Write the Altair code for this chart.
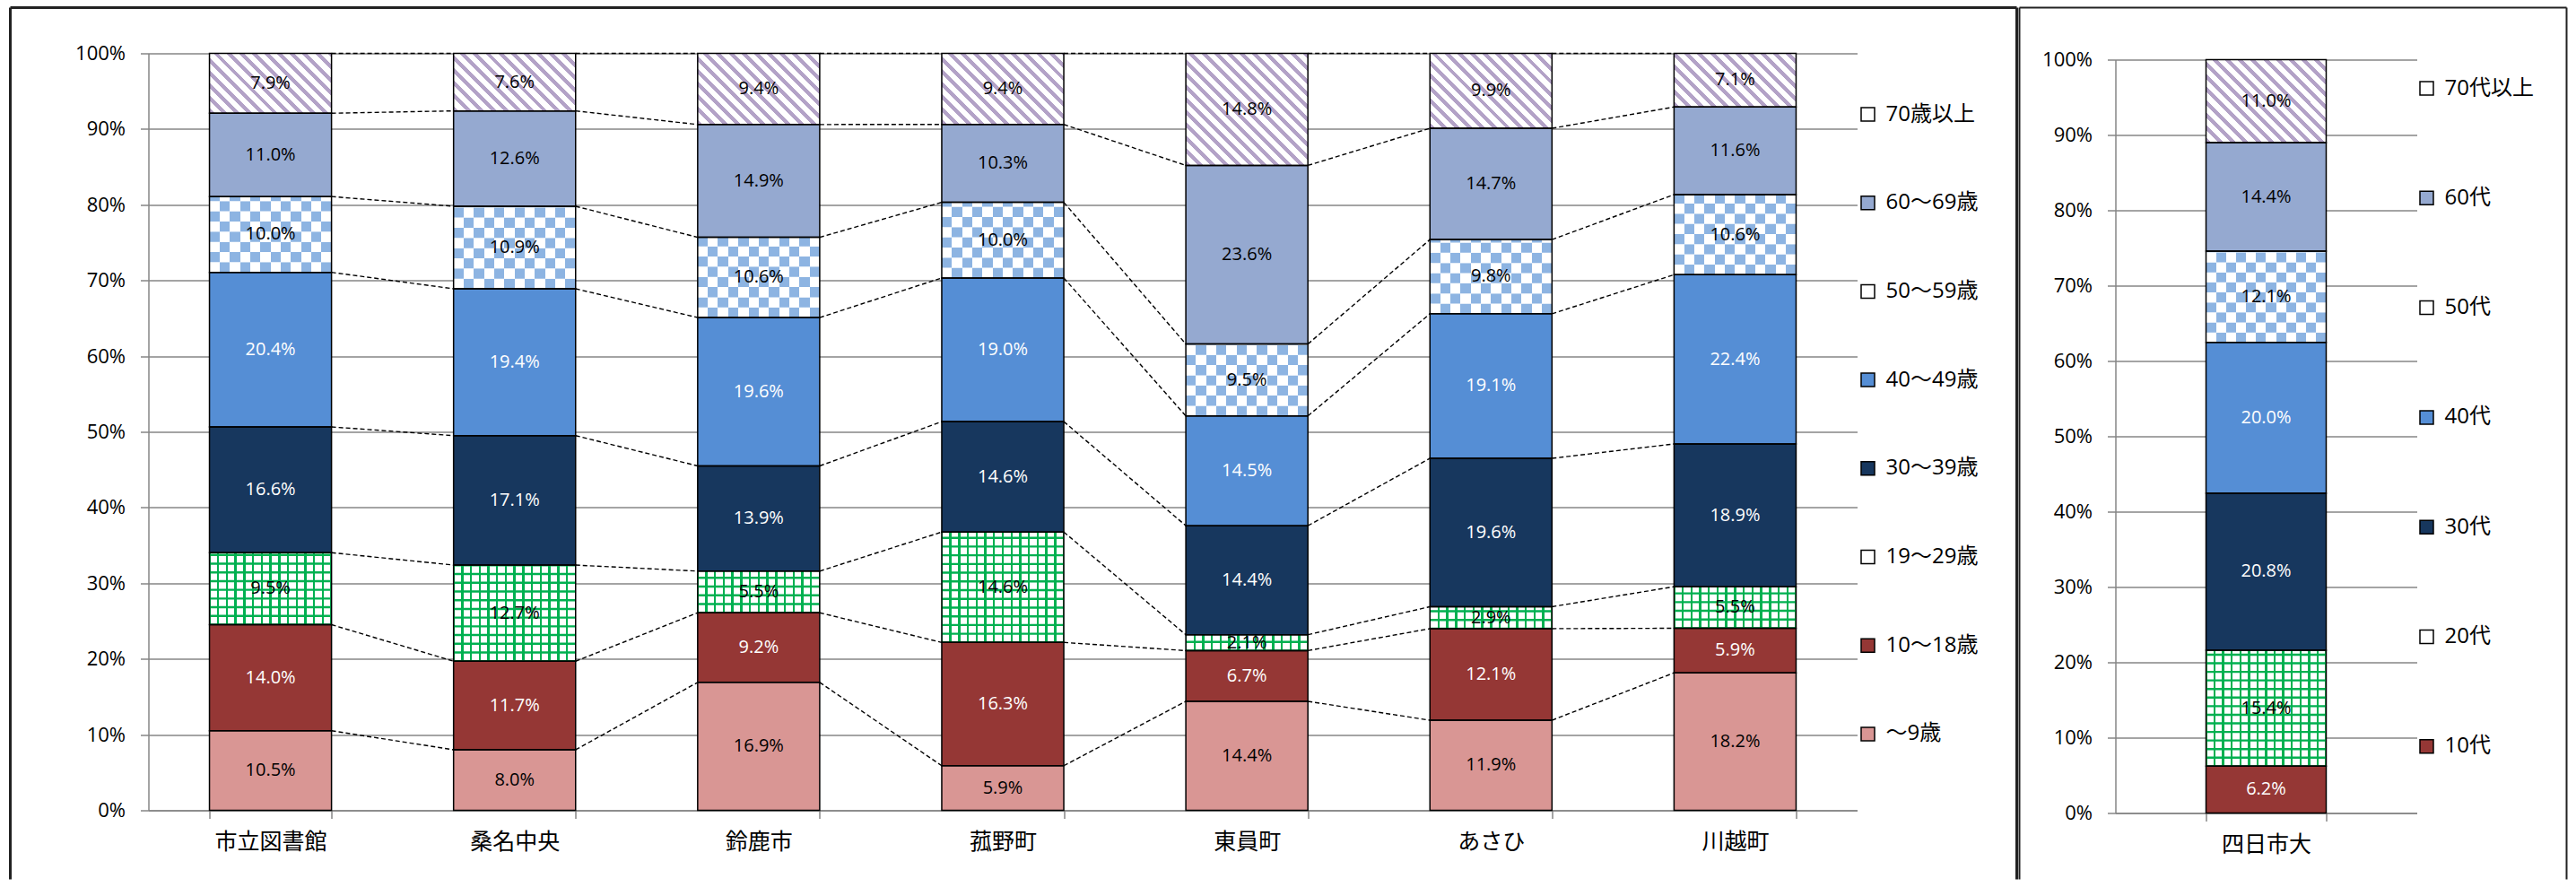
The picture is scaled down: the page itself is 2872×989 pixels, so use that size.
import math
import altair as alt

# ---------------------------------------------------------------- data
stations = ["市立図書館", "桑名中央", "鈴鹿市", "菰野町", "東員町", "あさひ", "川越町"]
age_groups = ["〜9歳", "10〜18歳", "19〜29歳", "30〜39歳",
              "40〜49歳", "50〜59歳", "60〜69歳", "70歳以上"]   # bottom -> top

share_0_9 = [10.5, 8.0, 16.9, 5.9, 14.4, 11.9, 18.2]
share_10_18 = [14.0, 11.7, 9.2, 16.3, 6.7, 12.1, 5.9]
share_19_29 = [9.5, 12.7, 5.5, 14.6, 2.1, 2.9, 5.5]
share_30_39 = [16.6, 17.1, 13.9, 14.6, 14.4, 19.6, 18.9]
share_40_49 = [20.4, 19.4, 19.6, 19.0, 14.5, 19.1, 22.4]
share_50_59 = [10.0, 10.9, 10.6, 10.0, 9.5, 9.8, 10.6]
share_60_69 = [11.0, 12.6, 14.9, 10.3, 23.6, 14.7, 11.6]
share_70_up = [7.9, 7.6, 9.4, 9.4, 14.8, 9.9, 7.1]

univ = ["四日市大"]
decades = ["10代", "20代", "30代", "40代", "50代", "60代", "70代以上"]  # bottom -> top
univ_shares = [6.2, 15.4, 20.8, 20.0, 12.1, 14.4, 11.0]

# ---------------------------------------------------------- appearance
FONT_NUM = "Open Sans"
FONT_JP = "Noto Sans CJK JP"
FONT_LEGEND = "Open Sans, Noto Sans CJK JP"
AXIS_GREY = "#868686"
FRAME_COLOR = "#222222"

PINK, MAROON, NAVY = "#D99694", "#953735", "#17375E"
BLUE, STEEL = "#558ED5", "#95A9D0"
LAVENDER, CHECK_BLUE, GREEN = "#B3A2C7", "#8DB4E2", "#00B050"

SOLID = {"pink": PINK, "maroon": MAROON, "navy": NAVY, "blue": BLUE, "steel": STEEL}
SWATCH = {"pink": PINK, "maroon": MAROON, "grid": "white", "navy": NAVY,
          "blue": BLUE, "checker": "white", "steel": STEEL, "stripe": "white"}
LIGHT_TEXT = {"maroon", "navy", "blue"}

styles_left = ["pink", "maroon", "grid", "navy", "blue", "checker", "steel", "stripe"]
styles_right = ["maroon", "grid", "navy", "blue", "checker", "steel", "stripe"]

# plot-area sizes (px) and the resulting bar widths
W_L, H_L = 1905, 844
W_R, H_R = 336, 840
TOP_R = 7            # the university panel's value axis starts a little lower
BAR_L = W_L / 7 * 0.5
BAR_R = 134.0


# ------------------------------------------------------- fill patterns
def stripe_fill(h_px, w_px, period=10.0, duty=0.42):
    """Diagonal lavender hatching (45 deg) as a bounding-box linear gradient."""
    k = (h_px + w_px) / (h_px ** 2 + w_px ** 2)
    n = (h_px + w_px) / math.sqrt(2) / period
    stops = []
    for i in range(int(math.ceil(n))):
        a = i / n
        b = min((i + duty) / n, 1.0)
        c = min((i + 1) / n, 1.0)
        stops += [{"offset": a, "color": LAVENDER}, {"offset": b, "color": LAVENDER},
                  {"offset": b, "color": "white"}, {"offset": c, "color": "white"}]
    return {"gradient": "linear", "x1": 0, "y1": 1,
            "x2": k * w_px, "y2": 1 - k * h_px, "stops": stops}


def checker_row(even, n_cols=12):
    stops = []
    for j in range(n_cols):
        col = CHECK_BLUE if (j % 2 == 1) == even else "white"
        stops += [{"offset": j / n_cols, "color": col},
                  {"offset": (j + 1) / n_cols, "color": col}]
    return {"gradient": "linear", "x1": 0, "y1": 0, "x2": 1, "y2": 0, "stops": stops}


def grid_columns(n_cols=14, line=0.25):
    stops = []
    e = 1.0 / n_cols
    for j in range(n_cols):
        a = j * e
        stops += [{"offset": a, "color": GREEN},
                  {"offset": a + e * line / 2, "color": GREEN},
                  {"offset": a + e * line / 2, "color": "white"},
                  {"offset": a + e * (1 - line / 2), "color": "white"},
                  {"offset": a + e * (1 - line / 2), "color": GREEN},
                  {"offset": a + e, "color": GREEN}]
    return {"gradient": "linear", "x1": 0, "y1": 0, "x2": 1, "y2": 0, "stops": stops}


# ------------------------------------------------------------ tables
def build_tables(cats, groups, styles, shares, plot_h, bar_px):
    segs, overlays, links, tops = [], [], [], []
    for ci, cat in enumerate(cats):
        vals = [s[ci] for s in shares]
        total = sum(vals)
        lo = 0.0
        cat_tops = []
        for g, v, st in zip(groups, vals, styles):
            hi = lo + v / total * 100.0
            h_px = (hi - lo) * plot_h / 100.0
            if st == "stripe":
                fill = stripe_fill(h_px, bar_px)
            elif st == "grid":
                fill = grid_columns()
            elif st == "checker":
                fill = "white"
            else:
                fill = SOLID[st]
            segs.append({"cat": cat, "grp": g, "y0": lo, "y1": hi,
                         "ymid": (lo + hi) / 2, "label": f"{v:.1f}%",
                         "tc": "white" if st in LIGHT_TEXT else "black",
                         "fill": fill})
            if st == "checker":
                step = (bar_px / 12) * 100.0 / plot_h
                k = 0
                while lo + k * step < hi - 1e-9:
                    overlays.append({"cat": cat, "y0": lo + k * step,
                                     "y1": min(lo + (k + 1) * step, hi),
                                     "fill": checker_row(k % 2 == 0)})
                    k += 1
            if st == "grid":
                step = (bar_px / 14) * 100.0 / plot_h
                t = step * 0.25
                k = 0
                while lo + k * step <= hi + 1e-9:
                    pos = lo + k * step
                    overlays.append({"cat": cat, "y0": max(pos - t / 2, lo),
                                     "y1": min(pos + t / 2, hi), "fill": GREEN})
                    k += 1
            cat_tops.append(hi)
            lo = hi
        tops.append(cat_tops)
    for ci in range(len(cats) - 1):
        for gi in range(len(groups)):
            links.append({"cat": cats[ci], "next": cats[ci + 1],
                          "ya": tops[ci][gi], "yb": tops[ci + 1][gi]})
    return segs, overlays, links


# ------------------------------------------------------------- panels
def panel(cats, groups, styles, shares, width, plot_h, top, bar_px,
          pad_inner, pad_outer, legend_x, legend_y, legend_gap, frame, frame_w):
    segs, overlays, links = build_tables(cats, groups, styles, shares, plot_h, bar_px)
    height = plot_h + top

    xs = alt.Scale(domain=cats, paddingInner=pad_inner, paddingOuter=pad_outer)
    ys = alt.Scale(domain=[0, 100], nice=False, range=[height, top])
    x_axis = alt.Axis(title=None, labelAngle=0, labelFont=FONT_JP, labelFontSize=25,
                      labelColor="black", labelPadding=14, tickBand="extent",
                      tickSize=9, tickColor=AXIS_GREY, tickWidth=1.5,
                      domainColor=AXIS_GREY, domainWidth=1.5, grid=False)
    y_axis = alt.Axis(title=None, values=list(range(0, 101, 10)),
                      labelExpr="datum.value + '%'", labelFont=FONT_NUM,
                      labelFontSize=22, labelColor="black", labelPadding=17,
                      tickSize=9, tickColor=AXIS_GREY, tickWidth=1.5,
                      domainColor=AXIS_GREY, domainWidth=1.5,
                      grid=True, gridColor=AXIS_GREY, gridWidth=1.5)

    def X(**kw):
        return alt.X("cat:N", scale=xs, axis=x_axis, **kw)

    def Y(field):
        return alt.Y(f"{field}:Q", scale=ys, axis=y_axis)

    legend_domain = list(reversed(groups))
    legend_colors = [SWATCH[s] for s in reversed(styles)]

    legend_layer = alt.Chart(alt.Data(values=[{"grp": g} for g in legend_domain])).mark_square(
        opacity=1, stroke="black", strokeWidth=1.5
    ).encode(
        fill=alt.Fill("grp:N", scale=alt.Scale(domain=legend_domain, range=legend_colors),
                      legend=alt.Legend(orient="none", legendX=legend_x, legendY=legend_y,
                                        title=None, padding=0, rowPadding=legend_gap,
                                        labelFont=FONT_LEGEND, labelFontSize=24,
                                        labelColor="black", labelOffset=8,
                                        symbolType="square", symbolSize=225,
                                        symbolStrokeColor="black", symbolStrokeWidth=1.5))
    ).transform_filter("false")

    base = alt.Chart(alt.Data(values=segs)).mark_bar(strokeWidth=0).encode(
        x=X(), y=Y("y0"), y2=alt.Y2("y1"),
        fill=alt.Fill("fill:N", scale=None, legend=None))

    overlay = alt.Chart(alt.Data(values=overlays)).mark_bar(strokeWidth=0).encode(
        x=X(), y=Y("y0"), y2=alt.Y2("y1"),
        fill=alt.Fill("fill:N", scale=None, legend=None))

    outline = alt.Chart(alt.Data(values=segs)).mark_bar(
        fill="transparent", stroke="black", strokeWidth=1.5
    ).encode(x=X(), y=Y("y0"), y2=alt.Y2("y1"))

    labels = alt.Chart(alt.Data(values=segs)).mark_text(
        font=FONT_NUM, fontSize=20, baseline="middle", align="center"
    ).encode(x=X(), y=Y("ymid"), text="label:N",
             color=alt.Color("tc:N", scale=None, legend=None))

    layers = [legend_layer, base, overlay, outline]
    if links:
        connectors = alt.Chart(alt.Data(values=links)).mark_rule(
            color="black", strokeWidth=1.4, strokeDash=[5, 3]
        ).encode(x=X(bandPosition=1), x2=alt.X2("next", bandPosition=0),
                 y=Y("ya"), y2=alt.Y2("yb"))
        layers.append(connectors)
    layers.append(labels)

    # chart-area frame: left, top and right edges
    fl, ft, fr, fb = frame
    one = alt.Chart(alt.Data(values=[{}]))
    layers += [
        one.mark_rule(color=FRAME_COLOR, strokeWidth=frame_w).encode(
            x=alt.value(fl), y=alt.value(ft), y2=alt.value(fb)),
        one.mark_rule(color=FRAME_COLOR, strokeWidth=frame_w).encode(
            x=alt.value(fl), x2=alt.value(fr), y=alt.value(ft)),
        one.mark_rule(color=FRAME_COLOR, strokeWidth=frame_w).encode(
            x=alt.value(fr), y=alt.value(ft), y2=alt.value(fb)),
    ]
    return alt.layer(*layers).properties(width=width, height=height)


left = panel(stations, age_groups, styles_left,
             [share_0_9, share_10_18, share_19_29, share_30_39,
              share_40_49, share_50_59, share_60_69, share_70_up],
             W_L, H_L, 0, BAR_L, 0.5, 0.25,
             legend_x=1905, legend_y=56, legend_gap=74.7,
             frame=(-154, -51, 2083, 921), frame_w=3)

right = panel(univ, decades, styles_right, [[v] for v in univ_shares],
              W_R, H_R, TOP_R, BAR_R, 0.5, 0.377,
              legend_x=335, legend_y=27, legend_gap=98.3,
              frame=(-107, -51, 503, 921), frame_w=2)

chart = alt.hconcat(left, right, spacing=0).resolve_scale(
    x="independent", y="independent", fill="independent"
).resolve_legend(fill="independent").properties(
    padding={"left": 9.5, "top": 6.5, "right": 4, "bottom": 0},
    background="white",
).configure_view(stroke=None)

chart.save("out.html", embed_options={"renderer": "svg", "actions": False})
